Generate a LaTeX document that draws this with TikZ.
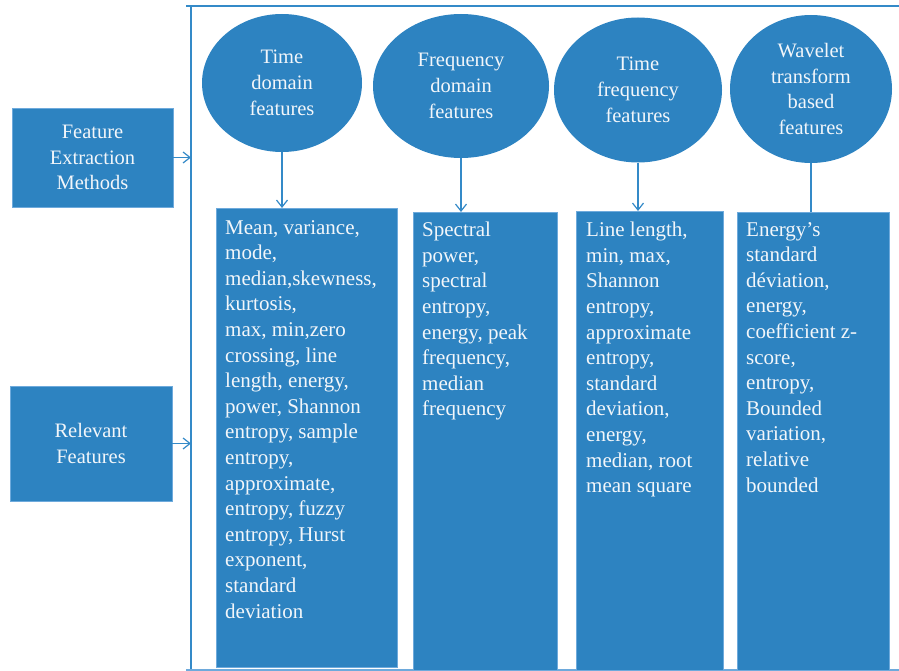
\documentclass[tikz,border=0pt]{standalone}
\usepackage{fontspec}
\setmainfont{Liberation Serif}
\usetikzlibrary{shapes.geometric,arrows.meta}
\definecolor{boxblue}{RGB}{45,131,193}
\definecolor{lineblue}{RGB}{52,138,200}
\definecolor{edgeblue}{RGB}{110,170,220}
\definecolor{txt}{RGB}{242,246,250}
\tikzset{
  feat/.style={ellipse,fill=boxblue,text=txt,align=center,inner sep=0pt,
    font=\fontsize{20.5}{25.7}\selectfont},
  listbox/.style={rectangle,fill=boxblue,draw=edgeblue,line width=0.8pt,anchor=north west,inner sep=0pt},
  listtext/.style={anchor=north west,text=txt,align=left,inner sep=0pt,
    font=\fontsize{21}{25.6}\selectfont},
  sidebox/.style={rectangle,fill=boxblue,draw=edgeblue,line width=0.8pt,text=txt,align=center,
    inner sep=0pt,font=\fontsize{20.5}{25.7}\selectfont},
  conn/.style={draw=lineblue,line width=1.2pt,-{Straight Barb[length=7pt,width=11pt]}},
  plain/.style={draw=lineblue,line width=1.2pt},
  framel/.style={draw=lineblue,line width=1.6pt}
}
\begin{document}
\begin{tikzpicture}[x=1pt,y=-1pt]
\useasboundingbox (0,0) rectangle (899,671);
% frame
\coordinate (ftl) at (186,6);
\coordinate (ftr) at (899,6);
\coordinate (fl) at (191,6);
\coordinate (flb) at (191,670);
\coordinate (fbl) at (186,670);
\coordinate (fbr) at (899,670);
\draw[framel] (ftl) -- (ftr);
\draw[framel] (fl) -- (flb);
\draw[draw=edgeblue,line width=1.4pt] (fbl) -- (fbr);

% side boxes
\node[sidebox,minimum width=161pt,minimum height=99pt] (m) at (92.5,157.5)
  {Feature\\Extraction\\Methods};
\node[sidebox,minimum width=162pt,minimum height=115pt] (r) at (91,443.5)
  {Relevant\\Features};
\draw[conn] (m.east) -- (m.east -| fl);
\draw[conn] (r.east) -- (r.east -| fl);

% ellipses
\node[feat,minimum width=160pt,minimum height=138pt] (e1) at (282,83) {Time\\domain\\features};
\node[feat,minimum width=176pt,minimum height=144pt] (e2) at (461,86) {Frequency\\domain\\features};
\node[feat,minimum width=168pt,minimum height=145pt] (e3) at (638,90) {Time\\frequency\\features};
\node[feat,minimum width=162pt,minimum height=148pt] (e4) at (811,89) {Wavelet\\transform\\based\\features};

% list boxes
\node[listbox,minimum width=181pt,minimum height=459pt] (b1) at (216,208) {};
\node[listbox,minimum width=144pt,minimum height=458pt] (b2) at (413,212) {};
\node[listbox,minimum width=147pt,minimum height=459pt] (b3) at (576,211) {};
\node[listbox,minimum width=152pt,minimum height=458pt] (b4) at (737,212) {};

\draw[conn] (e1.south) -- (e1.south |- b1.north);
\draw[conn] (e2.south) -- (e2.south |- b2.north);
\draw[conn] (e3.south) -- (e3.south |- b3.north);
\draw[plain] (e4.south) -- (e4.south |- b4.north);

\node[listtext] (t1) at ([xshift=9pt,yshift=-12pt]b1.north west)
  {Mean, variance,\\mode,\\median,skewness,\\kurtosis,\\max, min,zero\\crossing, line\\length, energy,\\power, Shannon\\entropy, sample\\entropy,\\approximate,\\entropy, fuzzy\\entropy, Hurst\\exponent,\\standard\\deviation};
\node[listtext] (t2) at ([xshift=9pt,yshift=-10pt]b2.north west)
  {Spectral\\power,\\spectral\\entropy,\\energy, peak\\frequency,\\median\\frequency};
\node[listtext] (t3) at ([xshift=10pt,yshift=-11pt]b3.north west)
  {Line length,\\min, max,\\Shannon\\entropy,\\approximate\\entropy,\\standard\\deviation,\\energy,\\median, root\\mean square};
\node[listtext] (t4) at ([xshift=9pt,yshift=-10pt]b4.north west)
  {Energy’s\\standard\\déviation,\\energy,\\coefficient z-\\score,\\entropy,\\Bounded\\variation,\\relative\\bounded};
\end{tikzpicture}
\end{document}
